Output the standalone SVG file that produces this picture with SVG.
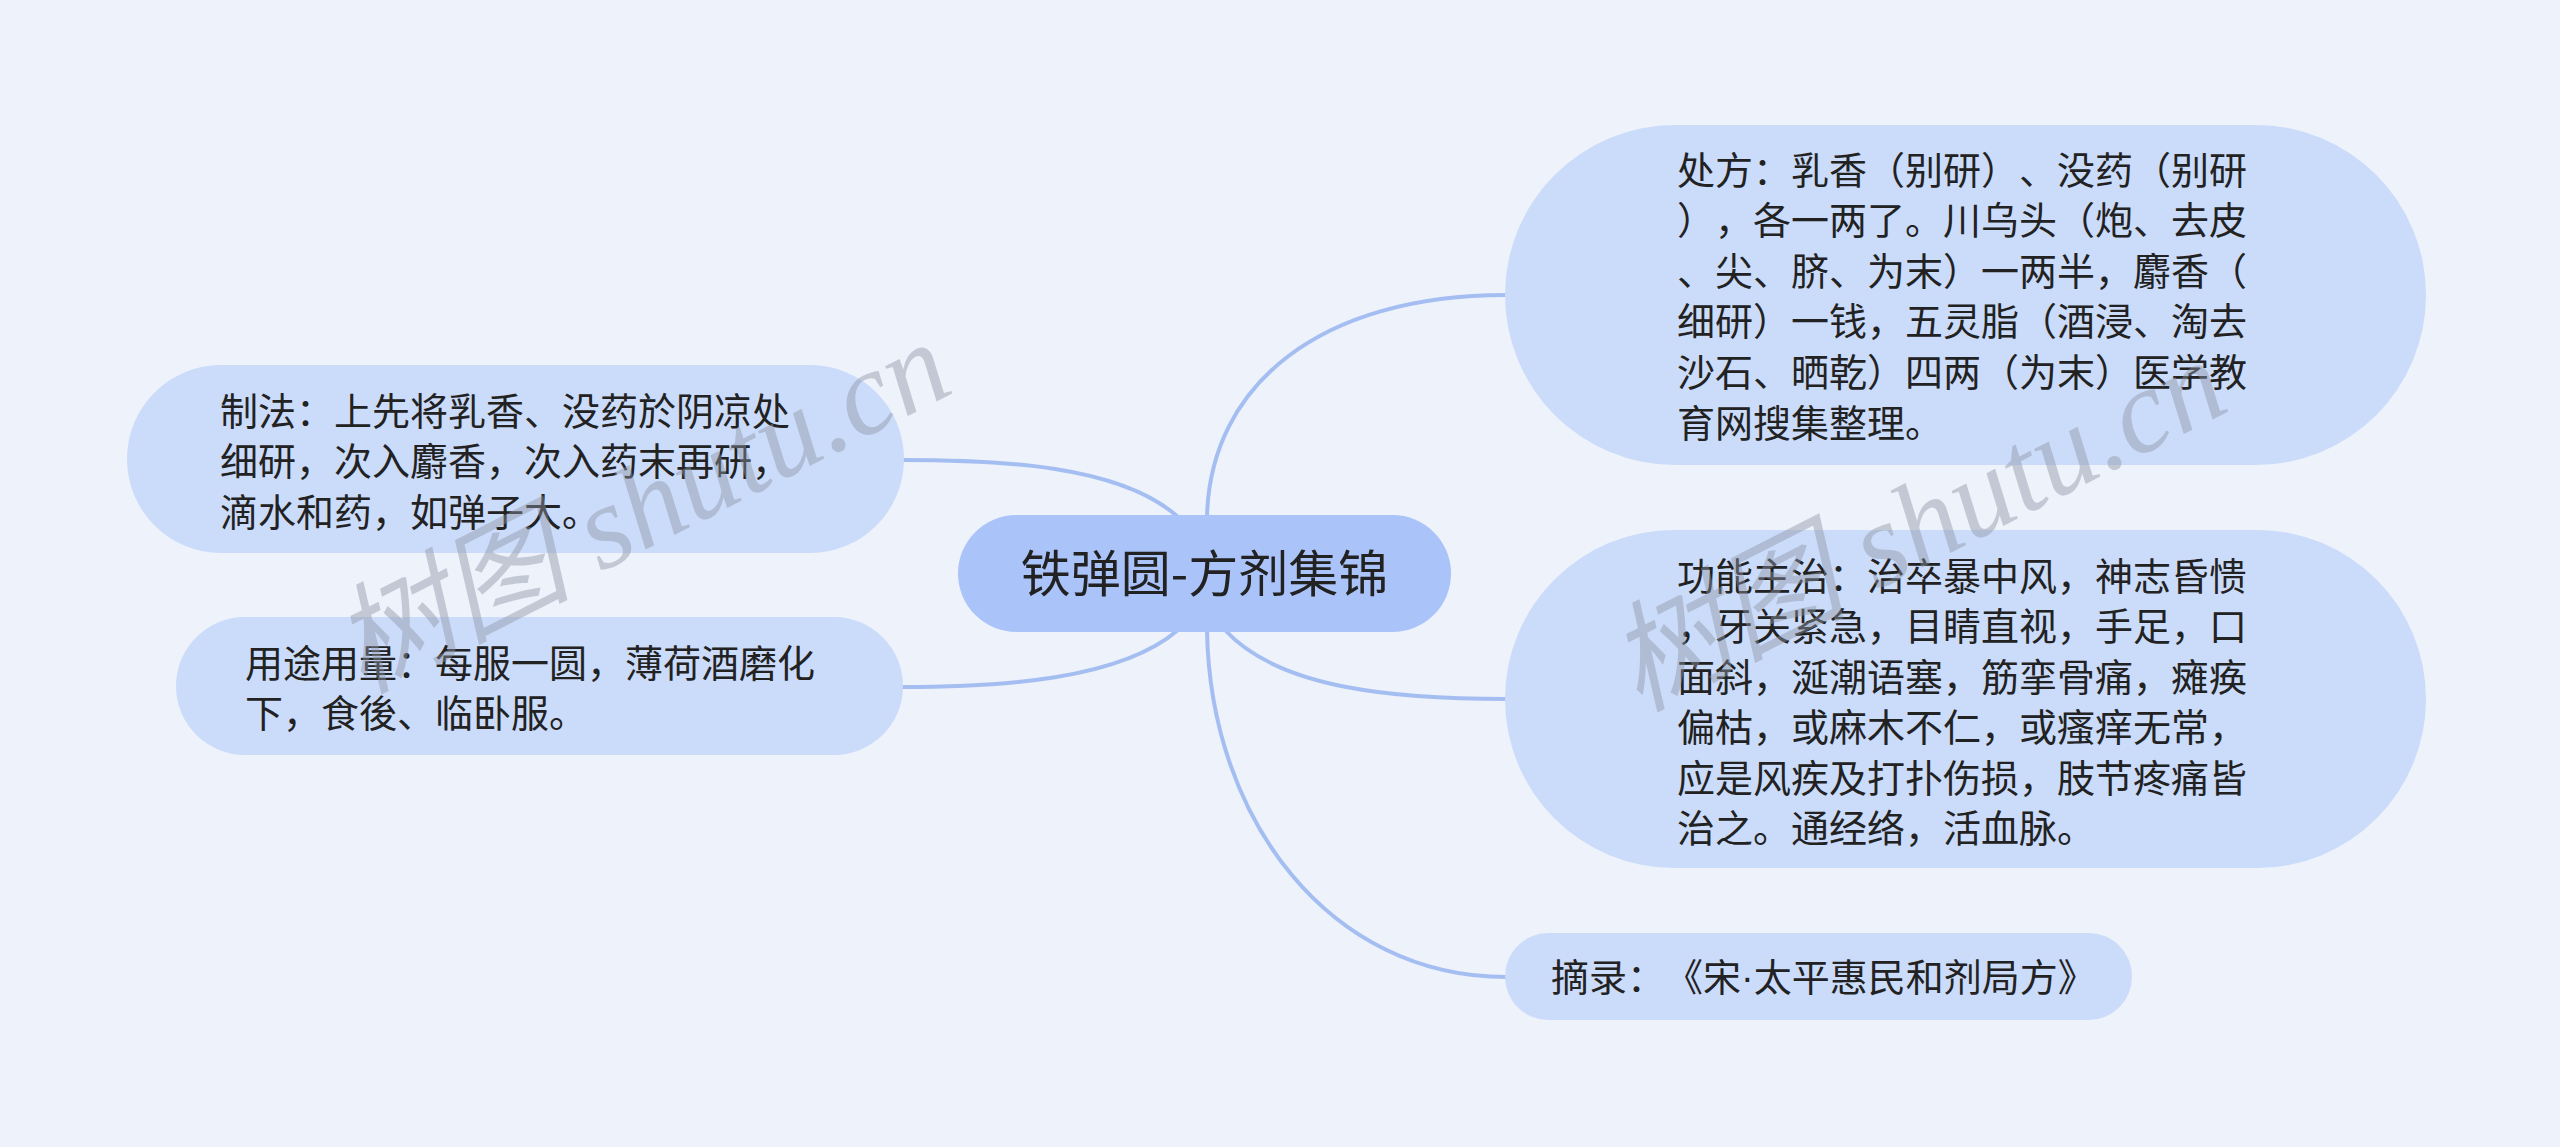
<svg xmlns="http://www.w3.org/2000/svg" width="2560" height="1147" viewBox="0 0 2560 1147">
<style>
.bg{fill:#edf2fb}
.sub{fill:#cbdbfa}
.root{fill:#aac3f8}
text{text-spacing-trim:space-all}
.t{font-family:"Noto Sans CJK SC","Noto Sans",sans-serif;font-size:38px;fill:#222}
.rt{font-family:"Noto Sans CJK SC","Noto Sans",sans-serif;font-size:50px;fill:#222;text-anchor:middle}
.dot{font-family:"Liberation Sans",sans-serif}
.link{fill:none;stroke:#a5bef2;stroke-width:4;stroke-linecap:round}
.wm{font-family:"Liberation Serif","Noto Sans CJK SC",serif;font-style:italic;font-size:119px;fill:#8e96a3;fill-opacity:0.45}
</style>
<rect class="bg" x="0" y="0" width="2560" height="1147"/>
<g id="connectors">
<path class="link" d="M1207,517 C1210,385 1320,295 1506,295"/>
<path class="link" d="M1178,517 C1120,465 1000,460 902,460"/>
<path class="link" d="M1178,630 C1120,680 1000,687 902,687"/>
<path class="link" d="M1225,630 C1280,690 1400,699 1506,699"/>
<path class="link" d="M1207,630 C1210,820 1330,977 1506,977"/>
</g>
<g id="root">
<rect class="root" x="958" y="515" width="493" height="117" rx="58.5"/>
<text class="rt" x="1204.5" y="592">铁弹圆-方剂集锦</text>
</g>
<g id="node-chufang">
<rect class="sub" x="1505" y="125" width="921" height="340" rx="170"/>
<text class="t">
<tspan x="1677" y="183.5">处方：乳香（别研）、没药（别研</tspan>
<tspan x="1677" y="234.1">），各一两了。川乌头（炮、去皮</tspan>
<tspan x="1677" y="284.7">、尖、脐、为末）一两半，麝香（</tspan>
<tspan x="1677" y="335.3">细研）一钱，五灵脂（酒浸、淘去</tspan>
<tspan x="1677" y="385.9">沙石、晒乾）四两（为末）医学教</tspan>
<tspan x="1677" y="436.5">育网搜集整理。</tspan>
</text>
</g>
<g id="node-gongneng">
<rect class="sub" x="1505" y="530" width="921" height="338" rx="169"/>
<text class="t">
<tspan x="1677" y="589.5">功能主治：治卒暴中风，神志昏愦</tspan>
<tspan x="1677" y="640">，牙关紧急，目睛直视，手足，口</tspan>
<tspan x="1677" y="690.5">面斜，涎潮语塞，筋挛骨痛，瘫痪</tspan>
<tspan x="1677" y="741">偏枯，或麻木不仁，或瘙痒无常，</tspan>
<tspan x="1677" y="791.5">应是风疾及打扑伤损，肢节疼痛皆</tspan>
<tspan x="1677" y="842">治之。通经络，活血脉。</tspan>
</text>
</g>
<g id="node-zhailu">
<rect class="sub" x="1505" y="933" width="627" height="87" rx="43.5"/>
<text class="t" x="1551" y="990.5">摘录：《宋<tspan class="dot">·</tspan>太平惠民和剂局方》</text>
</g>
<g id="node-zhifa">
<rect class="sub" x="127" y="365" width="777" height="188" rx="94"/>
<text class="t">
<tspan x="220" y="424.5">制法：上先将乳香、没药於阴凉处</tspan>
<tspan x="220" y="475">细研，次入麝香，次入药末再研，</tspan>
<tspan x="220" y="525.5">滴水和药，如弹子大。</tspan>
</text>
</g>
<g id="node-yongtu">
<rect class="sub" x="176" y="617" width="727" height="138" rx="69"/>
<text class="t">
<tspan x="245" y="676.5">用途用量：每服一圆，薄荷酒磨化</tspan>
<tspan x="245" y="726.5">下，食後、临卧服。</tspan>
</text>
</g>
<g id="watermarks">
<text class="wm" transform="translate(362,694) rotate(-27)">树图 shutu.cn</text>
<text class="wm" transform="translate(1638,712) rotate(-27)">树图 shutu.cn</text>
</g>
</svg>
